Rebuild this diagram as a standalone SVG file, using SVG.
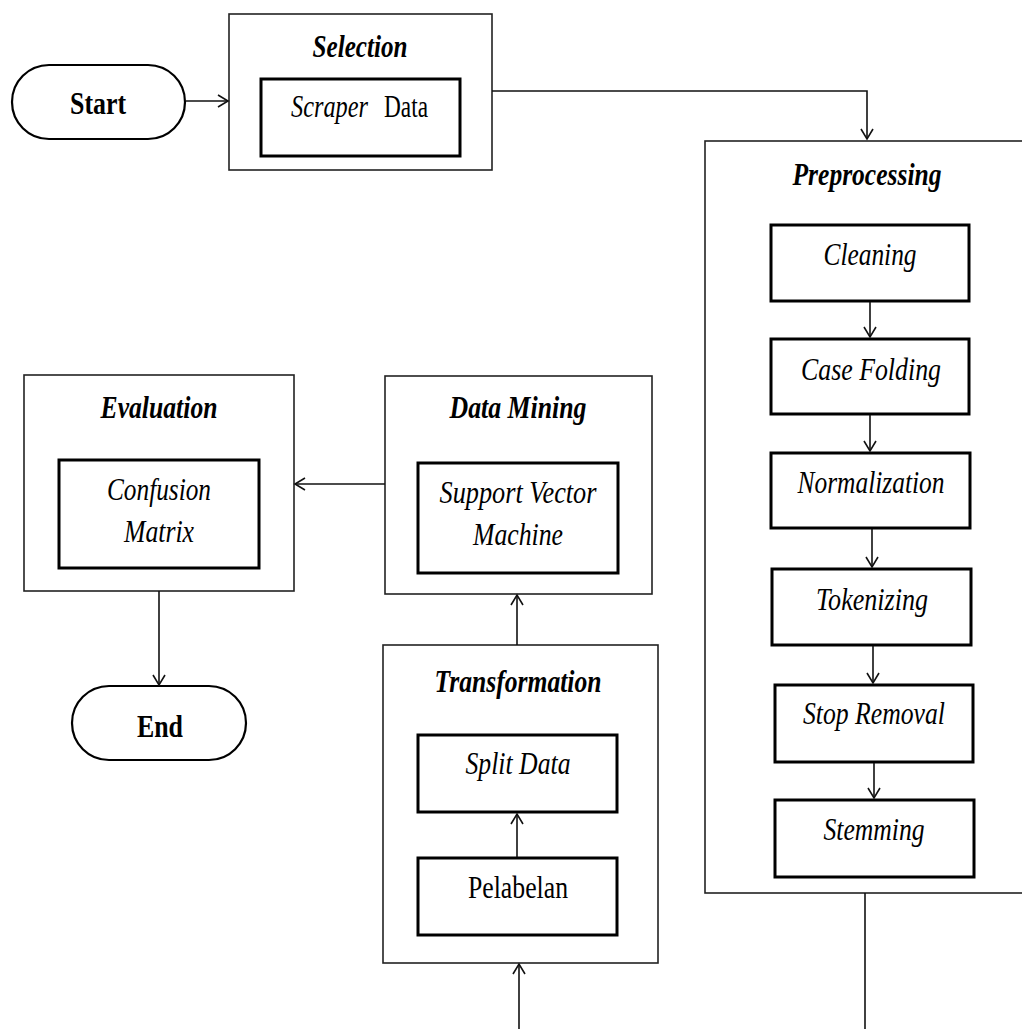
<svg xmlns="http://www.w3.org/2000/svg" width="1022" height="1029" viewBox="0 0 1022 1029">
<style>
.outer{fill:#fff;stroke:#222;stroke-width:1.6}
.inner{fill:#fff;stroke:#000;stroke-width:3}
.term{fill:#fff;stroke:#000;stroke-width:2.2}
.conn{fill:none;stroke:#111;stroke-width:1.6}
text{font-family:"Liberation Serif","Times New Roman",serif;font-size:31px;fill:#000;text-anchor:middle}
.t{font-weight:bold;font-style:italic}
.i{font-style:italic}
.b{font-weight:bold}
.s{text-anchor:start}
</style>
<defs>
<marker id="arr" markerUnits="userSpaceOnUse" markerWidth="14" markerHeight="14" refX="11" refY="7" orient="auto">
<path d="M1,1 L11,7 L1,13" fill="none" stroke="#111" stroke-width="1.6"/>
</marker>
</defs>
<g id="start">
<rect class="term" x="12" y="65" width="173" height="74" rx="37" ry="37"/>
<text class="b" x="98" y="114" textLength="56" lengthAdjust="spacingAndGlyphs">Start</text>
</g>
<g id="selection">
<rect class="outer" x="229" y="14" width="263" height="156"/>
<text class="t" x="360" y="57" textLength="95" lengthAdjust="spacingAndGlyphs">Selection</text>
<rect class="inner" x="261" y="79" width="199" height="77"/>
<text class="i s" x="291" y="117" textLength="77" lengthAdjust="spacingAndGlyphs">Scraper</text>
<text class="s" x="384" y="117" textLength="44" lengthAdjust="spacingAndGlyphs">Data</text>
</g>
<g id="preprocessing">
<rect class="outer" x="705" y="141" width="330" height="752"/>
<text class="t" x="867" y="185" textLength="149" lengthAdjust="spacingAndGlyphs">Preprocessing</text>
</g>
<g id="cleaning">
<rect class="inner" x="771" y="225" width="198" height="76"/>
<text class="i" x="870" y="265" textLength="93" lengthAdjust="spacingAndGlyphs">Cleaning</text>
</g>
<g id="case-folding">
<rect class="inner" x="771" y="339" width="198" height="75"/>
<text class="i" x="871" y="380" textLength="140" lengthAdjust="spacingAndGlyphs">Case Folding</text>
</g>
<g id="normalization">
<rect class="inner" x="771" y="453" width="199" height="75"/>
<text class="i" x="871" y="493" textLength="147" lengthAdjust="spacingAndGlyphs">Normalization</text>
</g>
<g id="tokenizing">
<rect class="inner" x="772" y="569" width="199" height="76"/>
<text class="i" x="872" y="610" textLength="112" lengthAdjust="spacingAndGlyphs">Tokenizing</text>
</g>
<g id="stop-removal">
<rect class="inner" x="775" y="685" width="198" height="77"/>
<text class="i" x="874" y="724" textLength="142" lengthAdjust="spacingAndGlyphs">Stop Removal</text>
</g>
<g id="stemming">
<rect class="inner" x="775" y="800" width="199" height="77"/>
<text class="i" x="874" y="840" textLength="101" lengthAdjust="spacingAndGlyphs">Stemming</text>
</g>
<g id="evaluation">
<rect class="outer" x="24" y="375" width="270" height="216"/>
<text class="t" x="159" y="418" textLength="117" lengthAdjust="spacingAndGlyphs">Evaluation</text>
<rect class="inner" x="59" y="460" width="200" height="108"/>
<text class="i" x="159" y="500" textLength="104" lengthAdjust="spacingAndGlyphs">Confusion</text>
<text class="i" x="159" y="542" textLength="70" lengthAdjust="spacingAndGlyphs">Matrix</text>
</g>
<g id="data-mining">
<rect class="outer" x="385" y="376" width="267" height="218"/>
<text class="t" x="518" y="418" textLength="137" lengthAdjust="spacingAndGlyphs">Data Mining</text>
<rect class="inner" x="418" y="463" width="200" height="110"/>
<text class="i" x="518" y="503" textLength="157" lengthAdjust="spacingAndGlyphs">Support Vector</text>
<text class="i" x="518" y="545" textLength="90" lengthAdjust="spacingAndGlyphs">Machine</text>
</g>
<g id="end">
<rect class="term" x="72" y="686" width="174" height="74" rx="37" ry="37"/>
<text class="b" x="160" y="737" textLength="46" lengthAdjust="spacingAndGlyphs">End</text>
</g>
<g id="transformation">
<rect class="outer" x="383" y="645" width="275" height="318"/>
<text class="t" x="518" y="692" textLength="167" lengthAdjust="spacingAndGlyphs">Transformation</text>
</g>
<g id="split-data">
<rect class="inner" x="418" y="735" width="199" height="77"/>
<text class="i" x="518" y="774" textLength="105" lengthAdjust="spacingAndGlyphs">Split Data</text>
</g>
<g id="pelabelan">
<rect class="inner" x="418" y="858" width="199" height="77"/>
<text x="518" y="898" textLength="100" lengthAdjust="spacingAndGlyphs">Pelabelan</text>
</g>
<g id="connectors">
<line class="conn" x1="186" y1="101" x2="228" y2="101" marker-end="url(#arr)"/>
<polyline class="conn" points="492,91 867,91 867,139" marker-end="url(#arr)"/>
<line class="conn" x1="870" y1="302" x2="870" y2="337" marker-end="url(#arr)"/>
<line class="conn" x1="870" y1="415" x2="870" y2="451" marker-end="url(#arr)"/>
<line class="conn" x1="872" y1="529" x2="872" y2="567" marker-end="url(#arr)"/>
<line class="conn" x1="873" y1="646" x2="873" y2="683" marker-end="url(#arr)"/>
<line class="conn" x1="874" y1="763" x2="874" y2="798" marker-end="url(#arr)"/>
<line class="conn" x1="865" y1="893" x2="865" y2="1029"/>
<line class="conn" x1="519" y1="1029" x2="519" y2="964" marker-end="url(#arr)"/>
<line class="conn" x1="517" y1="857" x2="517" y2="814" marker-end="url(#arr)"/>
<line class="conn" x1="517" y1="645" x2="517" y2="595" marker-end="url(#arr)"/>
<line class="conn" x1="385" y1="484" x2="295" y2="484" marker-end="url(#arr)"/>
<line class="conn" x1="159" y1="591" x2="159" y2="685" marker-end="url(#arr)"/>
</g>
</svg>
